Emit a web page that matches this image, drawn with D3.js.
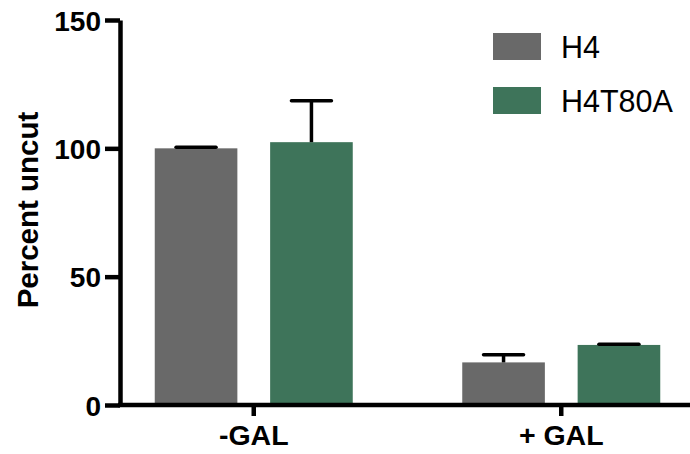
<!DOCTYPE html>
<html>
<head>
<meta charset="utf-8">
<script src="https://cdn.jsdelivr.net/npm/d3@7"></script>
<style>
  body { margin: 0; background: #fff; }
  svg { display: block; font-family: "Liberation Sans", Arial, Helvetica, sans-serif; }
</style>
</head>
<body>
<svg width="690" height="454"></svg>
<script>
// data
var groups = ["-GAL", "+ GAL"];
var series = ["H4", "H4T80A"];
var h4Means = [100, 16.6];
var h4Errs = [0.4, 3.0];
var h4t80aMeans = [102.4, 23.4];
var h4t80aErrs = [16.1, 0.3];
var yTicks = [0, 50, 100, 150];
var colors = ["#696969", "#3e745a"];

var svg = d3.select("svg");

var y = d3.scaleLinear().domain([0, 150]).range([405, 20]);
var x0 = d3.scaleBand().domain(groups).range([100, 715]);
var x1 = d3.scaleBand().domain(series).range([-99, 99]).paddingInner(0.284);
var color = d3.scaleOrdinal().domain(series).range(colors);

var rows = [];
groups.forEach(function(g, i) {
	rows.push({group: g, series: "H4", value: h4Means[i], err: h4Errs[i]});
	rows.push({group: g, series: "H4T80A", value: h4t80aMeans[i], err: h4t80aErrs[i]});
});

function cx(d) { return x0(d.group) + x0.bandwidth() / 2 + x1(d.series); }

// bars
svg.append("g").selectAll("rect")
	.data(rows)
	.enter().append("rect")
	.attr("x", cx)
	.attr("y", function(d) { return y(d.value); })
	.attr("width", x1.bandwidth())
	.attr("height", function(d) { return y(0) - y(d.value); })
	.attr("fill", function(d) { return color(d.series); });

// error bars (upper only)
var eb = svg.append("g").attr("stroke", "#000").attr("stroke-width", 3.5);
eb.selectAll("line.v")
	.data(rows)
	.enter().append("line")
	.attr("class", "v")
	.attr("x1", function(d) { return cx(d) + x1.bandwidth() / 2; })
	.attr("x2", function(d) { return cx(d) + x1.bandwidth() / 2; })
	.attr("y1", function(d) { return y(d.value); })
	.attr("y2", function(d) { return y(d.value + d.err); });
eb.selectAll("line.cap")
	.data(rows)
	.enter().append("line")
	.attr("class", "cap")
	.attr("stroke-linecap", "round")
	.attr("x1", function(d) { return cx(d) + x1.bandwidth() / 2 - 20; })
	.attr("x2", function(d) { return cx(d) + x1.bandwidth() / 2 + 20; })
	.attr("y1", function(d) { return y(d.value + d.err); })
	.attr("y2", function(d) { return y(d.value + d.err); });

// y axis
var yAxis = svg.append("g")
	.attr("transform", "translate(120,0)")
	.call(d3.axisLeft(y).tickValues(yTicks).tickSize(15).tickSizeOuter(0).tickPadding(4));
yAxis.select(".domain").attr("stroke-width", 4.5);
yAxis.selectAll(".tick line").attr("stroke-width", 4.5);
yAxis.selectAll(".tick text")
	.attr("fill", "#000")
	.attr("dy", "0.36em")
	.style("font-size", "28px")
	.style("font-weight", "bold");

// x axis
var xAxis = svg.append("g")
	.attr("transform", "translate(0,405)")
	.call(d3.axisBottom(x0).tickSize(11).tickSizeOuter(0).tickPadding(9));
xAxis.select(".domain").attr("d", "M118,0H690").attr("stroke-width", 4.5);
xAxis.selectAll(".tick line").attr("stroke-width", 4.5);
xAxis.selectAll(".tick text")
	.attr("fill", "#000")
	.style("font-size", "28.5px")
	.style("font-weight", "bold");

// y title
svg.append("text")
	.attr("transform", "translate(38,210) rotate(-90)")
	.attr("text-anchor", "middle")
	.style("font-size", "29.5px")
	.style("font-weight", "bold")
	.text("Percent uncut");

// legend
var legend = svg.append("g").selectAll("g")
	.data(series)
	.enter().append("g")
	.attr("transform", function(d, i) { return "translate(493," + (33 + i * 54) + ")"; });
legend.append("rect")
	.attr("width", 48)
	.attr("height", 27)
	.attr("fill", function(d) { return color(d); });
legend.append("text")
	.attr("x", 68)
	.attr("y", 24.5)
	.style("font-size", "30.5px")
	.text(function(d) { return d; });
</script>
</body>
</html>
